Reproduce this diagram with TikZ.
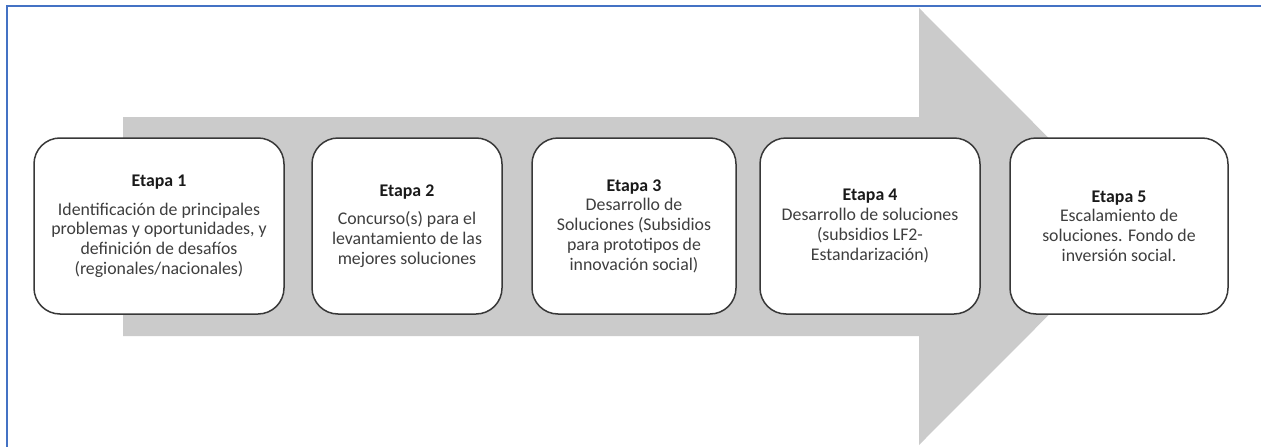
\documentclass[tikz,border=0pt]{standalone}
\usepackage{fontspec}
\setmainfont{Carlito}
\definecolor{framebl}{HTML}{4472C4}
\definecolor{arrowgr}{HTML}{CBCBCB}
\definecolor{bodytx}{HTML}{3E3E3E}
\definecolor{titletx}{HTML}{1A1A1A}
\definecolor{boxln}{HTML}{383838}
\newcommand{\ttl}[1]{{\bfseries\color{titletx}#1}}
\begin{document}
\begin{tikzpicture}[x=1pt,y=-1pt,
  stagebox/.style={draw=boxln, line width=1.5pt, fill=white, rounded corners=26pt,
    align=center, inner sep=0pt, text=bodytx,
    font=\fontsize{17.8}{19.7}\selectfont},
]
\useasboundingbox (0,0) rectangle (1261,447);
% frame
\draw[framebl, line width=2pt] (7,460) -- (7,6) -- (1270,6);
% big arrow
\fill[arrowgr] (123,117) -- (919,117) -- (919,8) -- (1137,226.5) -- (919,445) -- (919,336) -- (123,336) -- cycle;
% boxes
\node[stagebox, minimum width=250pt, minimum height=176pt] (b1) at (159,226)
  {\ttl{Etapa 1}\\[9pt]Identificación de principales\\problemas y oportunidades, y\\definición de desafíos\\(regionales/nacionales)};
\node[stagebox, minimum width=190pt, minimum height=176pt] (b2) at (407,226)
  {\ttl{Etapa 2}\\[9pt]Concurso(s) para el\\levantamiento de las\\mejores soluciones};
\node[stagebox, minimum width=204pt, minimum height=176pt] (b3) at (634,226)
  {\ttl{Etapa 3}\\Desarrollo de\\Soluciones (Subsidios\\para prototipos de\\innovación social)};
\node[stagebox, minimum width=220pt, minimum height=176pt] (b4) at (870,226)
  {\ttl{Etapa 4}\\Desarrollo de soluciones\\(subsidios LF2-\\Estandarización)};
\node[stagebox, minimum width=218pt, minimum height=176pt] (b5) at (1119,226)
  {\ttl{Etapa 5}\\Escalamiento de\\soluciones. Fondo de\\inversión social.};
\end{tikzpicture}
\end{document}
